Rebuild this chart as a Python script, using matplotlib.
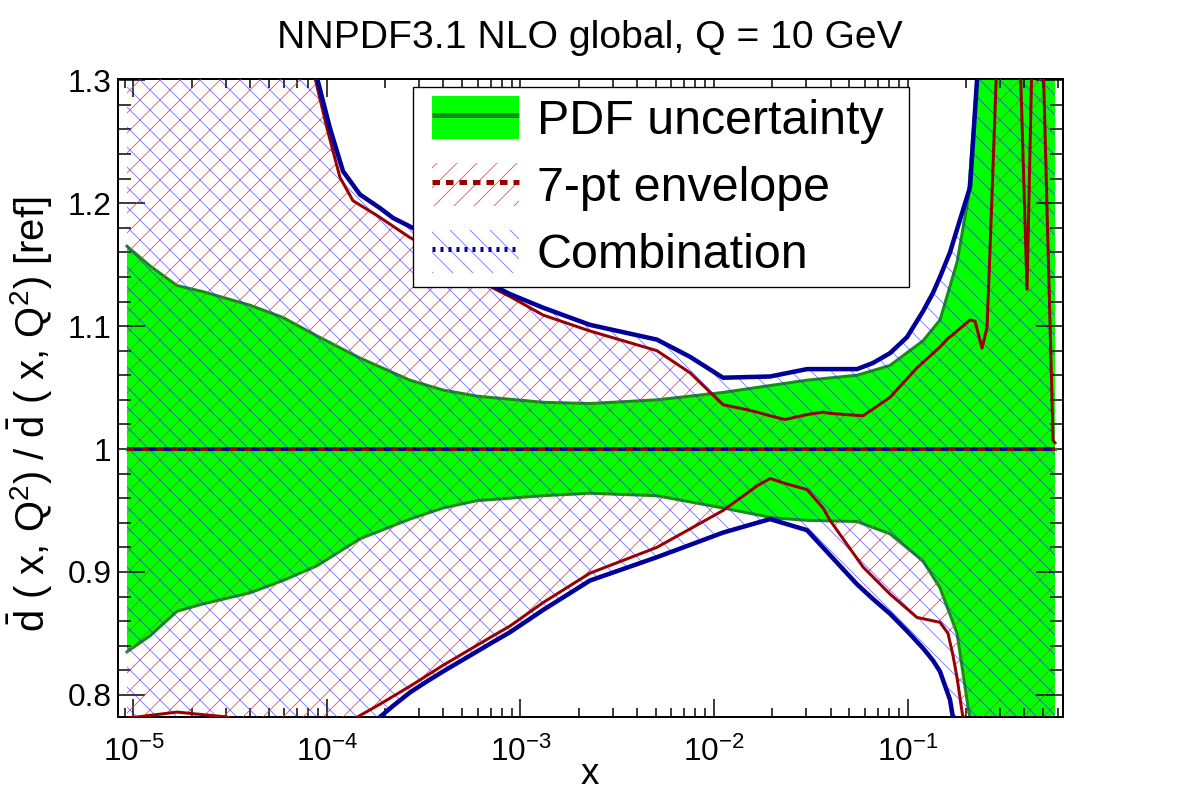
import numpy as np
import matplotlib
matplotlib.use("Agg")
import matplotlib.pyplot as plt
from matplotlib.patches import Patch, Rectangle
from matplotlib.lines import Line2D
from matplotlib.ticker import LogLocator, MultipleLocator, FuncFormatter, NullFormatter

plt.rcParams['font.family'] = ['Liberation Sans', 'DejaVu Sans']
plt.rcParams['mathtext.fontset'] = 'custom'
plt.rcParams['mathtext.rm'] = 'Liberation Sans'
plt.rcParams['mathtext.it'] = 'Liberation Sans:italic'
plt.rcParams['mathtext.default'] = 'regular'
plt.rcParams['hatch.linewidth'] = 0.5

# PDF uncertainty band (green)
pdf_x = [9.26e-6, 1.217e-5, 1.678e-5, 2.287e-5, 4.0e-5, 5.92e-5, 8.88e-5, 1.481e-4, 2.685e-4,
         3.976e-4, 5.96e-4, 1.307e-3, 2.286e-3, 5.07e-3, 1.113e-2, 2.018e-2, 3.024e-2, 5.48e-2,
         8.12e-2, 0.1202, 0.1472, 0.1803, 0.2055, 0.2286, 0.3006, 0.578]
pdf_hi = [1.165, 1.149, 1.133, 1.128, 1.117, 1.107, 1.092, 1.074, 1.056,
          1.048, 1.043, 1.038, 1.037, 1.040, 1.046, 1.052, 1.056, 1.060,
          1.068, 1.088, 1.105, 1.152, 1.203, 1.300, 1.50, 1.60]
pdf_lo = [0.835, 0.848, 0.868, 0.874, 0.883, 0.893, 0.905, 0.927, 0.943,
          0.952, 0.958, 0.962, 0.964, 0.962, 0.952, 0.944, 0.942, 0.941,
          0.931, 0.909, 0.887, 0.850, 0.790, 0.750, 0.60, 0.50]
central = [1.0] * len(pdf_x)

# 7-pt scale variation envelope (red)
env_x = [9.26e-6, 1.678e-5, 3.04e-5, 4.5e-5, 7.25e-5, 8.67e-5, 1.0e-4, 1.167e-4, 1.362e-4,
         1.813e-4, 2.685e-4, 3.976e-4, 7.21e-4, 8.83e-4, 1.307e-3, 2.286e-3, 5.07e-3, 7.52e-3,
         1.113e-2, 1.481e-2, 1.669e-2, 1.948e-2, 2.327e-2, 3.024e-2, 3.66e-2, 3.977e-2,
         5.89e-2, 8.12e-2, 0.1119, 0.1472, 0.1619, 0.1718, 0.1803, 0.1935, 0.2104, 0.2233,
         0.2427, 0.2576, 0.2669, 0.2901, 0.3386, 0.3814, 0.4146, 0.4399, 0.4724, 0.5017,
         0.565, 0.578]
env_hi = [1.60, 1.60, 1.60, 1.55, 1.40, 1.302, 1.261, 1.221, 1.202,
          1.190, 1.172, 1.158, 1.131, 1.124, 1.109, 1.096, 1.080, 1.062,
          1.036, 1.032, 1.030, 1.027, 1.024, 1.028, 1.030, 1.029,
          1.027, 1.042, 1.066, 1.083, 1.090, 1.093, 1.096, 1.100, 1.105, 1.104,
          1.082, 1.099, 1.162, 1.320, 1.60, 1.320, 1.130, 1.320, 1.60, 1.320,
          1.007, 1.005]
env_lo = [0.781, 0.786, 0.782, 0.772, 0.762, 0.766, 0.770, 0.775, 0.780,
          0.791, 0.807, 0.824, 0.848, 0.856, 0.875, 0.899, 0.920, 0.935,
          0.950, 0.964, 0.970, 0.976, 0.972, 0.967, 0.952, 0.942,
          0.904, 0.882, 0.863, 0.859, 0.850, 0.832, 0.814, 0.781, 0.700, 0.650,
          0.60, 0.60, 0.60, 0.60, 0.60, 0.60, 0.60, 0.60, 0.60, 0.60,
          0.60, 0.60]

# combination (blue)
comb_x = [9.26e-6, 2.207e-5, 4.0e-5, 7.25e-5, 8.88e-5, 1.036e-4, 1.21e-4, 1.481e-4, 1.879e-4,
          2.193e-4, 2.685e-4, 3.287e-4, 3.976e-4, 7.21e-4, 8.83e-4, 1.307e-3, 2.286e-3,
          5.07e-3, 7.52e-3, 1.113e-2, 1.948e-2, 3.024e-2, 5.48e-2, 6.63e-2, 8.12e-2, 9.94e-2,
          0.1202, 0.1354, 0.1472, 0.1658, 0.1718, 0.2104, 0.2286, 0.3006, 0.578]
comb_hi = [1.80, 1.70, 1.60, 1.42, 1.302, 1.261, 1.226, 1.207, 1.196,
           1.188, 1.181, 1.174, 1.166, 1.133, 1.126, 1.115, 1.101,
           1.089, 1.075, 1.058, 1.059, 1.065, 1.065, 1.070, 1.078, 1.091,
           1.112, 1.127, 1.140, 1.160, 1.168, 1.213, 1.300, 1.60, 1.80]
comb_lo = [0.60, 0.65, 0.69, 0.73, 0.74, 0.748, 0.757, 0.768, 0.782,
           0.791, 0.802, 0.811, 0.819, 0.843, 0.851, 0.869, 0.893,
           0.912, 0.922, 0.932, 0.943, 0.934, 0.890, 0.878, 0.866, 0.852,
           0.838, 0.828, 0.819, 0.796, 0.781, 0.60, 0.55, 0.50, 0.40]

green_fill = '#00ff00'
green_line = '#1a8a1a'
red_line = '#990000'
red_hatch = (1.0, 0.2, 0.2, 0.9)
blue_line = '#000099'
blue_hatch = (0.1, 0.1, 1.0, 0.6)

fig = plt.figure(figsize=(1182 / 120, 800 / 120), dpi=120)
ax = fig.add_axes([118 / 1182, 1 - 717 / 800, 945 / 1182, 638 / 800])

ax.fill_between(pdf_x, pdf_lo, pdf_hi, facecolor=green_fill, edgecolor='none', zorder=1)
ax.plot(pdf_x, pdf_hi, color=green_line, lw=1.8, zorder=2)
ax.plot(pdf_x, pdf_lo, color=green_line, lw=1.8, zorder=2)

ax.fill_between(env_x, env_lo, env_hi, facecolor='none', edgecolor=red_hatch, hatch='//', lw=0, zorder=3)
ax.fill_between(comb_x, comb_lo, comb_hi, facecolor='none', edgecolor=blue_hatch, hatch='\\\\', lw=0, zorder=3)

ax.plot(env_x, env_hi, color=red_line, lw=1.8, zorder=4)
ax.plot(env_x, env_lo, color=red_line, lw=1.8, zorder=4)
ax.plot(comb_x, comb_hi, color=blue_line, lw=2.7, zorder=5)
ax.plot(comb_x, comb_lo, color=blue_line, lw=2.7, zorder=5)

ax.plot(pdf_x, central, color=green_line, lw=2.0, zorder=6)
ax.plot(pdf_x, central, color=red_line, lw=2.2, ls=(0, (2, 2)), zorder=7)
ax.plot(pdf_x, central, color=blue_line, lw=2.2, ls=(2, (2, 2)), zorder=7)

ax.set_xscale('log')
ax.set_xlim(8.32e-6, 0.636)
ax.set_ylim(0.782, 1.301)

ax.xaxis.set_major_locator(LogLocator(base=10, numticks=20))
ax.xaxis.set_minor_locator(LogLocator(base=10, subs=np.arange(2, 10), numticks=20))
ax.xaxis.set_minor_formatter(NullFormatter())
ax.yaxis.set_major_locator(MultipleLocator(0.1))
ax.yaxis.set_minor_locator(MultipleLocator(0.02))
ax.yaxis.set_major_formatter(FuncFormatter(lambda v, p: f'{v:g}'))

ax.tick_params(which='both', direction='in', top=True, right=True, width=0.9)
ax.tick_params(axis='x', which='major', length=10.8, pad=12, labelsize=19)
ax.tick_params(axis='x', which='minor', length=5.4)
ax.tick_params(axis='y', which='major', length=16, pad=4, labelsize=19)
ax.tick_params(axis='y', which='minor', length=8)
for s in ax.spines.values():
    s.set_linewidth(1.2)

# legend box drawn by hand so the padding matches
ax.add_patch(Rectangle(((413 - 118) / 945, (717 - 287) / 638), (909 - 413) / 945, 200 / 638,
                       transform=ax.transAxes, facecolor='white', edgecolor='black',
                       lw=0.8, zorder=9))

h1 = (Patch(facecolor=green_fill, edgecolor='none'),
      Line2D([], [], color=green_line, lw=3, solid_capstyle='butt'))
h2 = (Patch(facecolor='white', edgecolor=red_hatch, hatch='//', lw=0),
      Line2D([], [], color=red_line, lw=3, ls=(0, (1.5, 1.2))))
h3 = (Patch(facecolor='white', edgecolor=blue_hatch, hatch='\\\\', lw=0),
      Line2D([], [], color=blue_line, lw=3, ls=(0, (0.6, 1.0))))
leg = ax.legend([h1, h2, h3], ['PDF uncertainty', '7-pt envelope', 'Combination'],
                loc='upper left', bbox_to_anchor=((432 - 118) / 945, (717 - 96) / 638), fontsize=29,
                handlelength=1.8, handleheight=1.0, handletextpad=0.37,
                labelspacing=0.385, borderpad=0, borderaxespad=0, frameon=False)
leg.set_zorder(10)

fig.text(590 / 1182, 1 - 38 / 800, 'NNPDF3.1 NLO global, Q = 10 GeV', ha='center', va='center', fontsize=23.5)
fig.text(590 / 1182, 1 - 775 / 800, 'x', ha='center', va='center', fontsize=22)
fig.text(30 / 1182, 1 - 414 / 800,
         r'$\bar{\mathrm{d}}$ ( x, Q$^{2}$) / $\bar{\mathrm{d}}$ ( x, Q$^{2}$) [ref]',
         ha='center', va='center', rotation=90, fontsize=24)

fig.savefig('out.png', dpi=120)
